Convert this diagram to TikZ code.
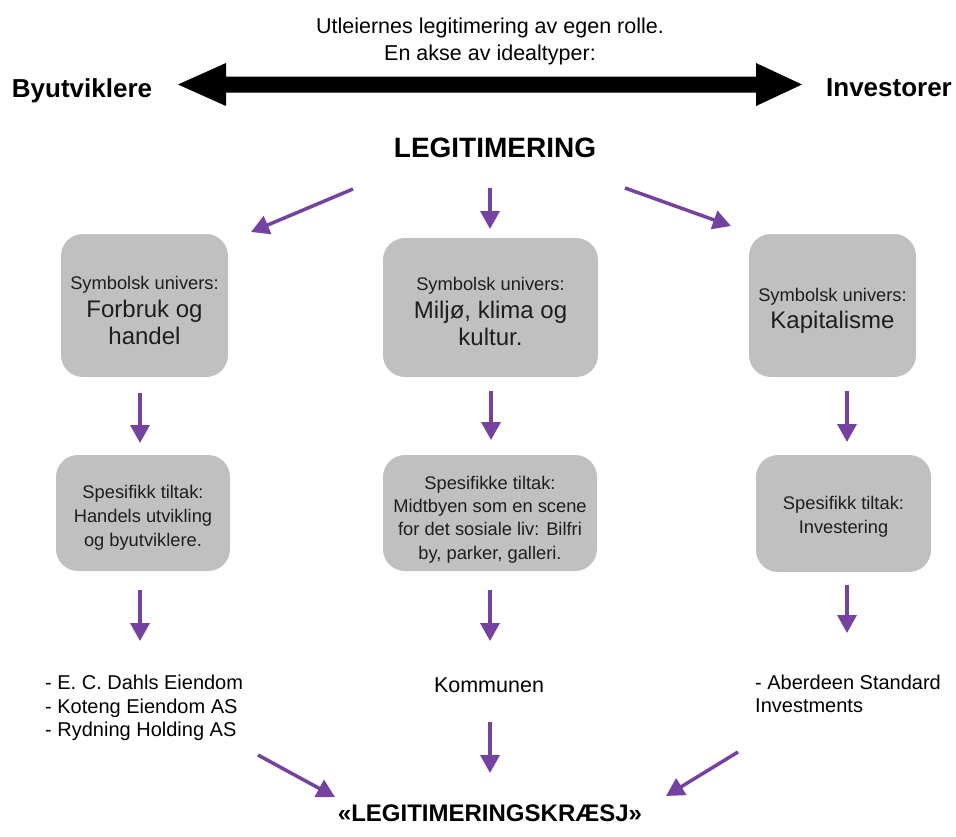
\documentclass[tikz,border=0pt]{standalone}
\usepackage{fontspec}
\setmainfont{Liberation Sans}
\usetikzlibrary{arrows.meta,calc}
\definecolor{purp}{RGB}{118,66,160}
\definecolor{boxgray}{RGB}{192,192,192}
\definecolor{ink}{RGB}{30,30,30}
\newcommand{\smtxt}{\fontsize{18.3}{27.5}\selectfont}
\newcommand{\bgtxt}{\fontsize{24}{27.5}\selectfont}
\begin{document}
\begin{tikzpicture}[x=1pt,y=-1pt,
  box/.style={fill=boxgray, rounded corners=22pt, inner sep=0pt},
  boxtext/.style={inner sep=0pt, align=center, text=ink},
  univ/.style={boxtext, font=\fontsize{18.3}{27.5}\selectfont},
  tilt/.style={boxtext, font=\fontsize{18.3}{24}\selectfont},
  parrow/.style={draw=purp, line width=3.5pt, -{Triangle[length=18pt,width=19pt]}},
  listtxt/.style={font=\fontsize{20}{23.5}\selectfont, align=left, anchor=west, inner sep=0pt}]
\useasboundingbox (0,0) rectangle (956,836);
\fill[white] (0,0) rectangle (956,836);

% header
\node[font=\fontsize{21.5}{27}\selectfont, align=center, inner sep=0pt] (title) at (490,41) {Utleiernes legitimering av egen rolle.\\En akse av idealtyper:};
\node[font=\bfseries\fontsize{26}{30}\selectfont, inner sep=0pt] (by) at (82,90.5) {Byutviklere};
\node[font=\bfseries\fontsize{26}{30}\selectfont, inner sep=0pt] (inv) at (889,88) {Investorer};

% big double arrow
\coordinate (axL) at (178,84.5);
\coordinate (axR) at (802,84.5);
\fill[black] (axL) -- ++(48,-21.5) -- ++(0,13.5) -- ($(axR)+(-46,-8)$) -- ++(0,-13.5) -- (axR)
  -- ++(-46,21.5) -- ++(0,-13.5) -- ($(axL)+(48,8)$) -- ++(0,13.5) -- cycle;

\node[font=\bfseries\fontsize{28}{32}\selectfont, inner sep=0pt] (legit) at (495,148) {LEGITIMERING};

% symbolic universes (boxes)
\node[box, minimum width=167pt, minimum height=143pt] (b1) at (144.5,305.5) {};
\node[box, minimum width=215pt, minimum height=139pt] (b2) at (490.5,307.5) {};
\node[box, minimum width=167pt, minimum height=143pt] (b3) at (832.5,305.5) {};
\node[univ] (b1t) at ($(b1.center)+(0,5)$)
  {\smtxt Symbolsk univers:\\\bgtxt Forbruk og\\\bgtxt handel};
\node[univ] (b2t) at ($(b2.center)+(0,4)$)
  {\smtxt Symbolsk univers:\\\bgtxt Miljø, klima og\\\bgtxt kultur.};
\node[univ] (b3t) at ($(b3.center)+(0,5.5)$)
  {\smtxt Symbolsk univers:\\\bgtxt Kapitalisme};

% specific measures (boxes)
\node[box, minimum width=174pt, minimum height=116pt] (b4) at (143,513) {};
\node[box, minimum width=214pt, minimum height=116pt] (b5) at (490,513) {};
\node[box, minimum width=175pt, minimum height=117pt] (b6) at (843.5,513.5) {};
\node[tilt] (b4t) at ($(b4.center)+(0,5)$)
  {Spesifikk tiltak:\\Handels utvikling\\og byutviklere.};
\node[tilt, font=\fontsize{18.3}{23.4}\selectfont] (b5t) at ($(b5.center)+(0,6.5)$)
  {Spesifikke tiltak:\\Midtbyen som en scene\\for det sosiale liv: Bilfri\\by, parker, galleri.};
\node[tilt] (b6t) at ($(b6.center)+(0,3)$)
  {Spesifikk tiltak:\\Investering};

% actors
\node[listtxt] (l1) at (45,708) {- E. C. Dahls Eiendom\\- Koteng Eiendom AS\\- Rydning Holding AS};
\node[font=\fontsize{21.5}{25}\selectfont, inner sep=0pt] (l2) at (489,685) {Kommunen};
\node[listtxt] (l3) at (755,694) {- Aberdeen Standard\\Investments};

\node[font=\bfseries\fontsize{24}{28}\selectfont, inner sep=0pt] (crash) at (490,813) {«LEGITIMERINGSKRÆSJ»};

% arrow end points
\coordinate (a1s) at (353,189); \coordinate (a1e) at (251,232);
\coordinate (a2s) at (490,188); \coordinate (a2e) at (490,229);
\coordinate (a3s) at (625,188); \coordinate (a3e) at (731,226);
\coordinate (d1s) at (140,393); \coordinate (d1e) at (140,443);
\coordinate (d2s) at (491,391); \coordinate (d2e) at (491,440);
\coordinate (d3s) at (847,391); \coordinate (d3e) at (847,442);
\coordinate (e1s) at (140,590); \coordinate (e1e) at (140,641);
\coordinate (e2s) at (490,590); \coordinate (e2e) at (490,641);
\coordinate (e3s) at (847,585); \coordinate (e3e) at (847,633);
\coordinate (c1s) at (258,755); \coordinate (c1e) at (335,797);
\coordinate (c2s) at (490,722); \coordinate (c2e) at (490,773);
\coordinate (c3s) at (738,752); \coordinate (c3e) at (666,796);

\foreach \p in {a1,a2,a3,d1,d2,d3,e1,e2,e3,c1,c2,c3}
  \draw[parrow] (\p s) -- (\p e);
\end{tikzpicture}
\end{document}
